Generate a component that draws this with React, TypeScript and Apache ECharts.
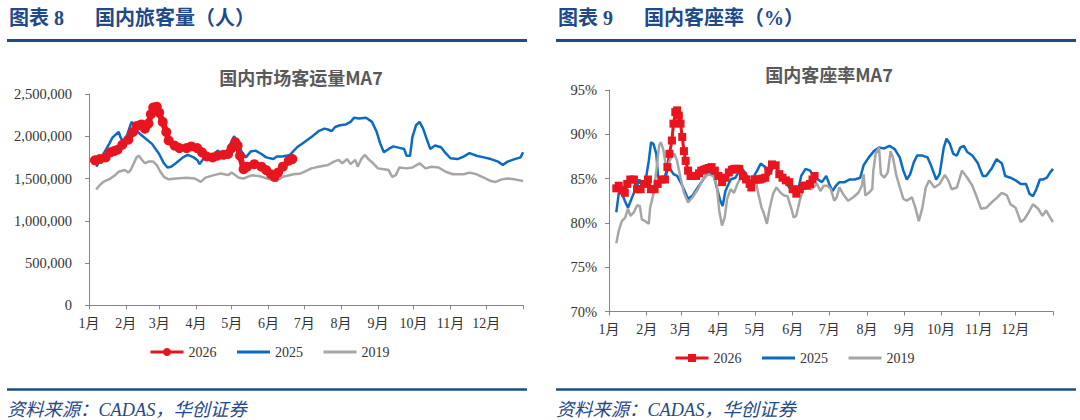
import React, { useEffect, useRef } from 'react';
import * as echarts from 'echarts';

// Month axis: ticks at the first day of each month, day-of-year on a value axis
const MONTH_LABELS = ['1月', '2月', '3月', '4月', '5月', '6月', '7月', '8月', '9月', '10月', '11月', '12月'];
const MONTH_START_DAYS = [0, 31, 59, 90, 120, 151, 181, 212, 243, 273, 304, 334];
const YEAR_END_DAY = 365;

const SERIES_NAMES = ['2026', '2025', '2019'];

// Domestic passenger volume, 7-day moving average (people), [day of year, value]
const pax2026: [number, number][] = [
  [5, 1715000], [9, 1730000], [14, 1750000], [18, 1810000], [21, 1825000], [24, 1840000],
  [28, 1900000], [33, 1960000], [37, 2050000], [40, 2120000], [44, 2140000], [47, 2090000],
  [50, 2150000], [52, 2260000], [54, 2340000], [57, 2350000], [59, 2280000], [62, 2170000],
  [65, 2050000], [67, 1950000], [72, 1890000], [76, 1860000], [82, 1860000], [86, 1880000],
  [91, 1860000], [95, 1810000], [99, 1760000], [104, 1750000], [108, 1770000], [113, 1780000],
  [117, 1790000], [120, 1860000], [123, 1930000], [125, 1890000], [127, 1770000], [130, 1610000],
  [133, 1640000], [139, 1670000], [145, 1640000], [149, 1600000], [153, 1550000], [156, 1520000],
  [159, 1570000], [163, 1640000], [168, 1710000], [171, 1730000],
];

const pax2025: [number, number][] = [
  [6, 1640000], [9, 1700000], [12, 1790000], [17, 1910000], [19.5, 1980000], [24, 2040000],
  [25, 2050000], [27, 1970000], [30, 1950000], [32, 2010000], [35, 2140000], [36, 2170000],
  [38, 2130000], [41, 2050000], [47, 1980000], [53, 1910000], [59, 1790000], [63, 1680000],
  [66, 1630000], [69, 1640000], [73, 1680000], [79, 1750000], [83, 1780000], [88, 1750000],
  [91, 1720000], [93, 1670000], [97, 1750000], [101, 1750000], [105, 1770000], [108, 1830000],
  [111, 1810000], [115, 1790000], [119, 1910000], [122, 2000000], [125, 1930000], [128.5, 1810000],
  [132, 1750000], [136, 1820000], [140, 1830000], [145, 1790000], [149, 1750000], [155, 1730000],
  [158, 1760000], [163, 1760000], [169, 1780000], [175, 1870000], [181, 1930000], [187, 1990000],
  [193, 2060000], [198, 2090000], [201, 2080000], [204, 2060000], [207, 2110000], [211, 2130000],
  [216, 2140000], [220, 2170000], [223, 2220000], [227, 2210000], [233, 2220000], [238, 2170000],
  [242, 2050000], [245, 1910000], [248, 1810000], [252, 1850000], [256, 1880000], [262, 1860000],
  [265, 1850000], [267, 1770000], [270, 1770000], [272, 1990000], [275, 2130000], [278, 2170000],
  [281, 2090000], [284, 1970000], [287, 1850000], [291, 1890000], [296, 1870000], [300, 1800000],
  [304, 1740000], [310, 1730000], [315, 1760000], [320, 1800000], [326, 1770000], [332, 1750000],
  [338, 1730000], [344, 1700000], [348, 1660000], [352, 1700000], [358, 1730000], [363, 1750000],
  [365, 1810000],
];

const pax2019: [number, number][] = [
  [6, 1370000], [9, 1420000], [12, 1460000], [18, 1500000], [22, 1540000], [25, 1580000],
  [30, 1600000], [33, 1570000], [35, 1600000], [37, 1660000], [40, 1750000], [42, 1770000],
  [44, 1730000], [47, 1680000], [50, 1700000], [54, 1700000], [57, 1660000], [60, 1580000],
  [63, 1520000], [67, 1490000], [73, 1500000], [82, 1510000], [89, 1500000], [94, 1460000],
  [98, 1510000], [105, 1540000], [111, 1560000], [117, 1540000], [120, 1570000], [126, 1510000],
  [130, 1500000], [137, 1540000], [143, 1530000], [152, 1490000], [158, 1470000], [163, 1520000],
  [172, 1550000], [178, 1560000], [181, 1580000], [187, 1620000], [193, 1640000], [201, 1660000],
  [206, 1700000], [210, 1720000], [213, 1680000], [217, 1730000], [220, 1670000], [224, 1720000],
  [226, 1640000], [229, 1730000], [232, 1780000], [235, 1730000], [239, 1680000], [243, 1620000],
  [248, 1610000], [252, 1600000], [255, 1520000], [258, 1540000], [261, 1630000], [267, 1620000],
  [272, 1630000], [278, 1680000], [283, 1620000], [288, 1640000], [294, 1630000], [300, 1580000],
  [306, 1550000], [315, 1550000], [320, 1570000], [326, 1550000], [332, 1510000], [338, 1470000],
  [342, 1460000], [347, 1490000], [352, 1500000], [358, 1490000], [365, 1470000],
];

// Domestic load factor, 7-day moving average (%), [day of year, value]
const load2026: [number, number][] = [
  [6, 83.9], [8, 84.2], [10.5, 83.7], [13, 83.4], [15, 84.4], [17.5, 84.9], [20.5, 84.9],
  [23, 83.8], [26, 83.8], [29, 84.4], [32, 84.9], [34.5, 83.8], [37.5, 83.8], [40, 84.4],
  [43, 84.9], [46, 84.9], [48, 86.3], [49.7, 87.8], [51.7, 89.3], [53, 91.2], [54.5, 92.5],
  [56, 92.7], [57.4, 92.1], [58.8, 91.2], [60.2, 89.7], [61.6, 88.1], [63, 87.0], [65, 85.9],
  [67, 85.3], [69.5, 85.3], [71.6, 85.3], [74, 85.6], [75.8, 85.9], [78, 86.0], [80, 86.1],
  [82, 86.2], [84.3, 86.3], [87, 85.9], [90, 85.3], [93, 84.6], [95.7, 85.1], [98.5, 85.7],
  [101, 86.0], [103, 86.1], [105, 86.1], [107, 86.1], [110, 85.3], [112.7, 84.9], [115.6, 84.4],
  [117, 84.0], [119.8, 84.9], [122, 84.9], [124, 84.9], [126, 85.0], [128.4, 85.1], [131, 85.9],
  [134, 86.6], [137, 86.5], [140, 85.5], [142.6, 85.1], [145.4, 84.8], [148.2, 84.6],
  [151, 83.8], [154, 83.3], [156.8, 83.8], [159.6, 84.2], [162.5, 84.2], [165.3, 84.4],
  [167.3, 84.9], [169, 85.3],
];

const load2025: [number, number][] = [
  [6, 81.2], [8, 83.3], [10.5, 83.4], [13, 82.5], [15.6, 81.7], [19, 82.9], [23, 84.2],
  [25, 84.9], [27.5, 84.0], [30, 84.7], [32.7, 87.0], [34.6, 89.1], [36.6, 88.9], [38.9, 87.8],
  [40.3, 85.3], [43, 84.8], [46, 85.3], [48, 85.9], [50.3, 86.1], [53, 85.5], [56, 85.3],
  [58.8, 84.6], [61.6, 83.8], [65, 82.7], [68.7, 83.1], [73, 84.0], [77, 84.8], [81.5, 85.7],
  [85.8, 85.5], [88.6, 84.0], [91.5, 82.5], [93.4, 81.9], [95.7, 83.6], [100, 84.9],
  [104, 85.1], [108.5, 86.3], [112.7, 85.5], [116, 84.6], [118.4, 85.1], [121.8, 85.9],
  [124.7, 86.7], [128.4, 86.3], [131, 85.3], [135, 86.3], [137.7, 86.3], [141, 85.5],
  [144.6, 84.8], [148, 84.0], [152, 83.4], [155.3, 83.6], [158, 85.3], [161.6, 86.1],
  [165.3, 85.9], [168, 85.3], [171.8, 84.9], [175, 84.6], [178.6, 85.3], [181, 84.4],
  [183.7, 83.6], [186.6, 84.2], [189.4, 84.6], [193.7, 84.6], [198, 84.9], [202, 84.9],
  [206.5, 85.1], [209.3, 86.5], [213.6, 87.4], [217.8, 88.1], [222, 88.5], [226.3, 88.4],
  [230.6, 88.7], [235, 88.3], [239, 87.4], [242, 85.9], [244.8, 84.9], [247.6, 85.5],
  [250.5, 86.8], [253.3, 87.6], [257.6, 87.6], [261.8, 87.4], [264.7, 86.5], [269, 84.9],
  [271.8, 85.5], [275.2, 88.5], [277.5, 89.5], [280.3, 88.9], [283, 87.8], [286, 87.6],
  [288.8, 88.5], [291.7, 88.7], [294.5, 88.0], [298.7, 87.6], [303, 86.8], [307.3, 85.3],
  [310, 85.3], [314.4, 86.1], [318.6, 87.2], [323, 86.7], [325.7, 85.3], [330, 85.1],
  [334.3, 84.8], [338.5, 84.4], [342.8, 84.4], [345.6, 83.3], [348.5, 83.0], [351.3, 83.8],
  [354.2, 84.9], [357, 84.9], [360, 85.1], [362.7, 85.7], [365, 86.1],
];

const load2019: [number, number][] = [
  [6, 77.7], [8, 79.1], [10.5, 80.2], [13.3, 80.6], [15.6, 81.6], [17.6, 80.8], [20.4, 81.2],
  [23.3, 82.0], [25.3, 81.9], [27, 80.4], [29.8, 80.2], [32.7, 79.9], [33.8, 81.7], [36.6, 83.3],
  [38.9, 85.9], [41.2, 88.7], [42.6, 89.1], [44.6, 88.3], [46.9, 86.3], [48.8, 86.6],
  [51.7, 87.6], [53.7, 87.8], [56, 87.0], [58.8, 85.1], [61.6, 83.4], [65, 82.3], [68.7, 82.9],
  [73, 83.8], [77.2, 84.9], [81.5, 85.5], [85.8, 85.3], [88.6, 84.2], [90.6, 81.4], [92.9, 79.7],
  [95.1, 80.6], [97.1, 82.7], [100, 83.8], [102.8, 83.4], [105.6, 84.4], [110, 85.5],
  [114, 85.1], [118.4, 85.3], [120.7, 84.8], [122.7, 83.3], [125.5, 81.7], [127.5, 81.0],
  [129.8, 79.9], [132, 81.6], [134.9, 83.3], [137.7, 84.0], [141.1, 83.4], [144, 83.1],
  [146.8, 83.0], [149.7, 81.7], [151.9, 80.6], [153.9, 80.8], [156.8, 82.5], [159.6, 83.8],
  [162.5, 84.1], [166.7, 83.8], [171, 84.4], [173.8, 83.6], [176.6, 84.2], [179.5, 84.2],
  [182.3, 83.8], [185.2, 82.5], [187.2, 82.9], [189.4, 84.0], [192.3, 83.3], [196.5, 82.5],
  [200.8, 82.9], [205, 83.4], [207.9, 84.2], [209.3, 85.5], [210.7, 83.1], [213.6, 83.4],
  [216.4, 83.8], [217.3, 85.9], [219.2, 87.8], [222, 88.5], [223.5, 85.5], [226.3, 85.1],
  [229.2, 85.7], [231.5, 88.1], [233.4, 87.4], [236.3, 85.3], [239.1, 84.0], [242, 82.7],
  [244.8, 82.5], [249, 82.9], [251.9, 81.7], [254.7, 80.2], [257.6, 81.7], [260.4, 84.0],
  [263.3, 84.8], [267.5, 84.0], [271.8, 84.4], [276, 85.4], [278.9, 84.8], [281.7, 83.8],
  [286, 84.0], [290.2, 85.9], [294.5, 85.1], [298.7, 84.2], [302.4, 82.9], [305.9, 81.6],
  [310.1, 81.7], [314.4, 82.3], [318.6, 82.8], [322.9, 83.4], [327.2, 83.1], [330, 82.1],
  [334.3, 81.7], [338.5, 80.1], [341.4, 80.4], [345, 81.2], [348.5, 82.1], [352.8, 81.6],
  [356.4, 80.8], [359.3, 81.4], [362.7, 80.6], [365, 80.1],
];

const SERIF = "'Liberation Serif', 'Times New Roman', 'Noto Sans CJK SC', serif";
const SANS = "'Noto Sans CJK SC', 'Liberation Sans', sans-serif";
const NAVY = '#1F4A8A';
const RED = '#E8141E';
const BLUE = '#0B6BC2';
const GREY = '#A6A6A6';
const AXIS_GREY = '#868686';
const LABEL = '#333333';

type PanelConfig = {
  figNo: string;
  figTitle: string;
  chartTitle: string;
  offsetX: number;
  titleX: number;
  titleY: number;
  grid: { left: number; top: number; width: number; height: number };
  yAxis: Record<string, unknown>;
  legendLeft: number;
  legendTop: number;
  marker: string;
  markerSize: number;
  markerLineWidth: number;
  legendItemHeight: number;
  data: [number, number][][];
};

function headerGraphics(offsetX: number, chartTitle: string, titleX: number, titleY: number, figNo: string, figTitle: string) {
  const textBase = (x: number, y: number, text: string, font: string, fill: string, align = 'left') => ({
    type: 'text',
    x,
    y,
    silent: true,
    style: { text, font, fill, textAlign: align, textVerticalAlign: 'middle', align, verticalAlign: 'middle' },
  });
  return [
    textBase(9 + offsetX, 18, figNo, `bold 20px ${SERIF}`, NAVY),
    textBase(95 + offsetX, 18, figTitle, `bold 20px ${SERIF}`, NAVY),
    {
      type: 'line',
      silent: true,
      shape: { x1: 7 + offsetX, y1: 40.5, x2: 527 + offsetX, y2: 40.5 },
      style: { stroke: NAVY, lineWidth: 3 },
    },
    textBase(titleX, titleY, chartTitle, `bold 18px ${SANS}`, '#595959', 'center'),
    {
      type: 'line',
      silent: true,
      shape: { x1: 7 + offsetX, y1: 389.5, x2: 527 + offsetX, y2: 389.5 },
      style: { stroke: NAVY, lineWidth: 2.5 },
    },
    textBase(7 + offsetX, 410, '资料来源：CADAS，华创证券', `italic 18.3px ${SERIF}`, NAVY),
  ];
}

function buildOption(cfg: PanelConfig) {
  const colors = [RED, BLUE, GREY];
  const series = cfg.data.map((d, i) => ({
    name: SERIES_NAMES[i],
    type: 'line',
    data: d,
    silent: true,
    symbol: i === 0 ? cfg.marker : 'none',
    symbolSize: i === 0 ? cfg.markerSize : 0,
    showSymbol: i === 0,
    lineStyle: { width: i === 0 ? cfg.markerLineWidth : 2.5, color: colors[i] },
    itemStyle: { color: colors[i] },
  }));
  return {
    animation: false,
    graphic: { elements: headerGraphics(cfg.offsetX, cfg.chartTitle, cfg.titleX, cfg.titleY, cfg.figNo, cfg.figTitle) },
    legend: {
      left: cfg.legendLeft,
      top: cfg.legendTop,
      itemWidth: 33,
      itemHeight: cfg.legendItemHeight,
      itemGap: 19,
      selectedMode: false,
      lineStyle: { width: 3 },
      textStyle: { fontFamily: SERIF, fontSize: 14, color: LABEL },
      data: SERIES_NAMES.map((name, i) => (i === 0 ? { name } : { name, itemStyle: { opacity: 0 } })),
    },
    grid: { ...cfg.grid, containLabel: false },
    xAxis: {
      type: 'value',
      min: 0,
      max: YEAR_END_DAY,
      axisLine: { lineStyle: { color: AXIS_GREY, width: 1 } },
      axisTick: {
        show: true,
        length: 4,
        customValues: [...MONTH_START_DAYS, YEAR_END_DAY],
        lineStyle: { color: AXIS_GREY },
      },
      axisLabel: {
        customValues: MONTH_START_DAYS,
        formatter: (v: number) => {
          const idx = MONTH_START_DAYS.indexOf(Math.round(v));
          return idx >= 0 ? MONTH_LABELS[idx] : '';
        },
        margin: 11,
        fontFamily: SERIF,
        fontSize: 14,
        color: LABEL,
      },
      splitLine: { show: false },
    },
    yAxis: cfg.yAxis,
    series,
  };
}

const leftPanel: PanelConfig = {
  figNo: '图表 8',
  figTitle: '国内旅客量（人）',
  chartTitle: '国内市场客运量MA7',
  offsetX: 0,
  titleX: 301,
  titleY: 77,
  grid: { left: 89, top: 94, width: 434, height: 211.3 },
  yAxis: {
    type: 'value',
    min: 0,
    max: 2500000,
    interval: 500000,
    axisLine: { show: true, lineStyle: { color: AXIS_GREY, width: 1 } },
    axisTick: { show: true, length: 4, lineStyle: { color: AXIS_GREY } },
    axisLabel: {
      formatter: (v: number) => v.toLocaleString('en-US'),
      margin: 17,
      fontFamily: SERIF,
      fontSize: 14.5,
      color: LABEL,
    },
    splitLine: { show: false },
  },
  legendLeft: 144,
  legendTop: 340,
  marker: 'circle',
  markerSize: 10,
  markerLineWidth: 6,
  legendItemHeight: 10,
  data: [pax2026, pax2025, pax2019],
};

const rightPanel: PanelConfig = {
  figNo: '图表 9',
  figTitle: '国内客座率（%）',
  chartTitle: '国内客座率MA7',
  offsetX: 9,
  titleX: 289,
  titleY: 74,
  grid: { left: 69, top: 90, width: 444, height: 221.5 },
  yAxis: {
    type: 'value',
    min: 70,
    max: 95,
    interval: 5,
    axisLine: { show: true, lineStyle: { color: AXIS_GREY, width: 1 } },
    axisTick: { show: true, length: 4, lineStyle: { color: AXIS_GREY } },
    axisLabel: {
      formatter: (v: number) => `${v}%`,
      margin: 12,
      fontFamily: SERIF,
      fontSize: 14.5,
      color: LABEL,
    },
    splitLine: { show: false },
  },
  legendLeft: 129,
  legendTop: 346,
  marker: 'rect',
  markerSize: 8,
  markerLineWidth: 3,
  legendItemHeight: 10,
  data: [load2026, load2025, load2019],
};

function Panel({ cfg, left }: { cfg: PanelConfig; left: number }) {
  const ref = useRef<HTMLDivElement>(null);
  useEffect(() => {
    if (!ref.current) return;
    const chart = echarts.init(ref.current, undefined, { renderer: 'svg' });
    chart.setOption(buildOption(cfg));
    return () => chart.dispose();
  }, [cfg]);
  return <div ref={ref} style={{ position: 'absolute', left, top: 0, width: 540, height: 420 }} />;
}

export default function App() {
  return (
    <div style={{ position: 'absolute', left: 0, top: 0, width: 1080, height: 420, background: '#fff' }}>
      <Panel cfg={leftPanel} left={0} />
      <Panel cfg={rightPanel} left={540} />
    </div>
  );
}
